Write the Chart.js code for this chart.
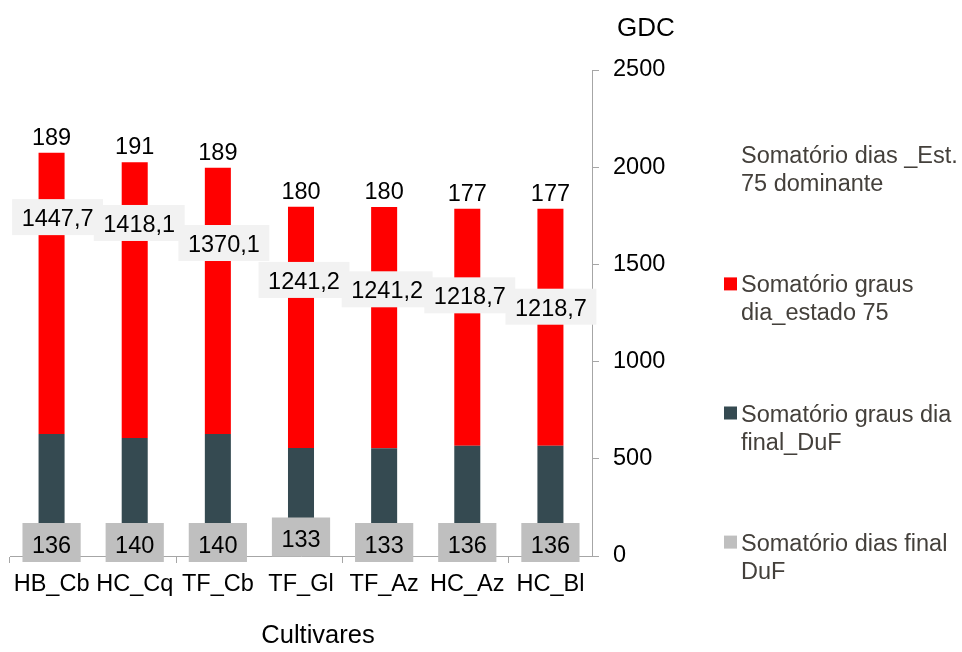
<!DOCTYPE html>
<html><head><meta charset="utf-8">
<script src="https://cdn.jsdelivr.net/npm/chart.js@4.4.0/dist/chart.umd.min.js"></script>
<style>html,body{margin:0;padding:0;background:#fff;overflow:hidden}#wrap{width:962px;height:652px;position:relative}</style>
</head><body><div id="wrap"><canvas id="c"></canvas></div>
<script>
// ---- data ----
const categories = ['HB_Cb', 'HC_Cq', 'TF_Cb', 'TF_Gl', 'TF_Az', 'HC_Az', 'HC_Bl'];
const seriesNames = ['Somatório dias final DuF', 'Somatório graus dia final_DuF', 'Somatório graus dia_estado 75', 'Somatório dias _Est. 75 dominante'];
const diasFinalDuF = [136, 140, 140, 133, 133, 136, 136];
const grausFinalDuF = [627, 607, 627, 555, 554, 567, 567];
const grausEst75 = [1447.7, 1418.1, 1370.1, 1241.2, 1241.2, 1218.7, 1218.7];
const diasEst75 = [189, 191, 189, 180, 180, 177, 177];
const yTicks = [0, 500, 1000, 1500, 2000, 2500];
const yTitle = 'GDC';
const xTitle = 'Cultivares';

// ---- style ----
const FONT = '"Liberation Sans", Arial, sans-serif';
const FS = 23.5;
const AXIS = '#A6A6A6';
const RED = '#FF0000';
const DARK = '#354A51';
const GREY = '#BFBFBF';
const LEGEND_TEXT = '#44403B';
const fmt = v => String(v).replace('.', ',');

const labelPlugin = {
  id: 'customLabels',
  afterDraw(chart, args, opts) {
    const ctx = chart.ctx;
    const ys = chart.scales.y;
    const ca = chart.chartArea;
    const metaRed = chart.getDatasetMeta(2);
    ctx.save();
    ctx.font = FS + 'px ' + FONT;
    ctx.textAlign = 'center';
    ctx.textBaseline = 'alphabetic';
    categories.forEach((c, i) => {
      const bar = metaRed.data[i];
      const x = bar.x;
      // top labels (dias Est.75)
      ctx.fillStyle = '#000';
      ctx.fillText(String(diasEst75[i]), x, bar.y - 8);
      // red series labels
      const txt = fmt(grausEst75[i]);
      const w = ctx.measureText(txt).width + 19;
      const cy = ys.getPixelForValue(grausFinalDuF[i] + grausEst75[i] * opts.redFrac[i]);
      const cx = x + opts.redDx[i];
      ctx.fillStyle = '#F2F2F2';
      ctx.fillRect(cx - w / 2, cy - 18, w, 36);
      ctx.fillStyle = '#000';
      ctx.fillText(txt, cx, cy + 9);
      // grey labels (dias final DuF)
      const gt = String(diasFinalDuF[i]);
      const gw = ctx.measureText(gt).width + 19;
      const gy = ys.getPixelForValue(0) - 13.5 + opts.greyDy[i];
      ctx.fillStyle = GREY;
      ctx.fillRect(x - gw / 2, gy - 19.5, gw, 39);
      ctx.fillStyle = '#000';
      ctx.fillText(gt, x, gy + 10);
    });

    // legend
    const order = [3, 2, 1, 0];
    const tx = 741, mx = 724, maxW = 221;
    ctx.textAlign = 'left';
    order.forEach((di, k) => {
      const ds = chart.data.datasets[di];
      const words = ds.label.split(' ');
      const lines = [];
      let cur = '';
      words.forEach(wd => {
        const t = cur ? cur + ' ' + wd : wd;
        if (ctx.measureText(t).width > maxW && cur) { lines.push(cur); cur = wd; }
        else cur = t;
      });
      if (cur) lines.push(cur);
      const base = 163.3 + k * 129.1;
      if (ds.legendColor) {
        ctx.fillStyle = ds.legendColor;
        ctx.fillRect(mx, base - 15, 13, 13);
      }
      ctx.fillStyle = LEGEND_TEXT;
      lines.forEach((ln, j) => ctx.fillText(ln, tx, base + j * 28));
    });

    // axis titles
    ctx.fillStyle = '#000';
    ctx.textAlign = 'center';
    ctx.font = '26px ' + FONT;
    ctx.fillText(yTitle, ca.right + 54, 36);
    ctx.font = '25.5px ' + FONT;
    ctx.fillText(xTitle, (ca.left + ca.right) / 2 + 17, 643);
    ctx.restore();
  }
};

const tickFont = { family: FONT, size: FS };

new Chart(document.getElementById('c'), {
  type: 'bar',
  data: {
    labels: categories,
    datasets: [
      { label: seriesNames[0], data: diasFinalDuF, yAxisID: 'yd', stack: 's', backgroundColor: 'rgba(0,0,0,0)', legendColor: GREY },
      { label: seriesNames[1], data: grausFinalDuF, yAxisID: 'y', stack: 's', backgroundColor: DARK, legendColor: DARK },
      { label: seriesNames[2], data: grausEst75, yAxisID: 'y', stack: 's', backgroundColor: RED, legendColor: RED },
      { label: seriesNames[3], data: diasEst75, yAxisID: 'yd', stack: 's', backgroundColor: 'rgba(0,0,0,0)', legendColor: null }
    ]
  },
  options: {
    responsive: true,
    maintainAspectRatio: false,
    animation: false,
    layout: { padding: { left: 10, top: 70, right: 0, bottom: 0 } },
    datasets: { bar: { categoryPercentage: 1, barPercentage: 0.313, borderWidth: 0 } },
    plugins: {
      legend: { display: false },
      tooltip: { enabled: false },
      customLabels: {
        redFrac: [0.771, 0.780, 0.7175, 0.697, 0.659, 0.635, 0.587],
        redDx: [6, 4.5, 6, 3, 3, 2.5, 0.5],
        greyDy: [0, 0, 0, -5.5, 0, 0, 0]
      }
    },
    scales: {
      x: {
        stacked: true,
        offset: true,
        grid: {
          offset: true, drawOnChartArea: false, drawTicks: true, tickLength: 7, lineWidth: 1,
          color: c => (c.index !== undefined && c.index % 2 === 0) ? AXIS : 'rgba(0,0,0,0)'
        },
        border: { display: true, color: AXIS, width: 1 },
        ticks: { color: '#000', font: tickFont, padding: 7, maxRotation: 0, minRotation: 0, autoSkip: false },
        afterFit(s) { s.height = 96; }
      },
      y: {
        position: 'right',
        stacked: true,
        min: 0,
        max: 2500,
        afterBuildTicks(s) { s.ticks = yTicks.map(v => ({ value: v })); },
        grid: { drawOnChartArea: false, drawTicks: true, tickLength: 7, color: AXIS, lineWidth: 1 },
        border: { display: true, color: AXIS, width: 1 },
        ticks: { color: '#000', font: tickFont, padding: 14, callback: v => String(v) },
        afterFit(s) { s.width = 370; }
      },
      yd: {
        display: false,
        stacked: true,
        min: 0,
        max: 100000
      }
    }
  },
  plugins: [labelPlugin]
});
</script>
</body></html>
